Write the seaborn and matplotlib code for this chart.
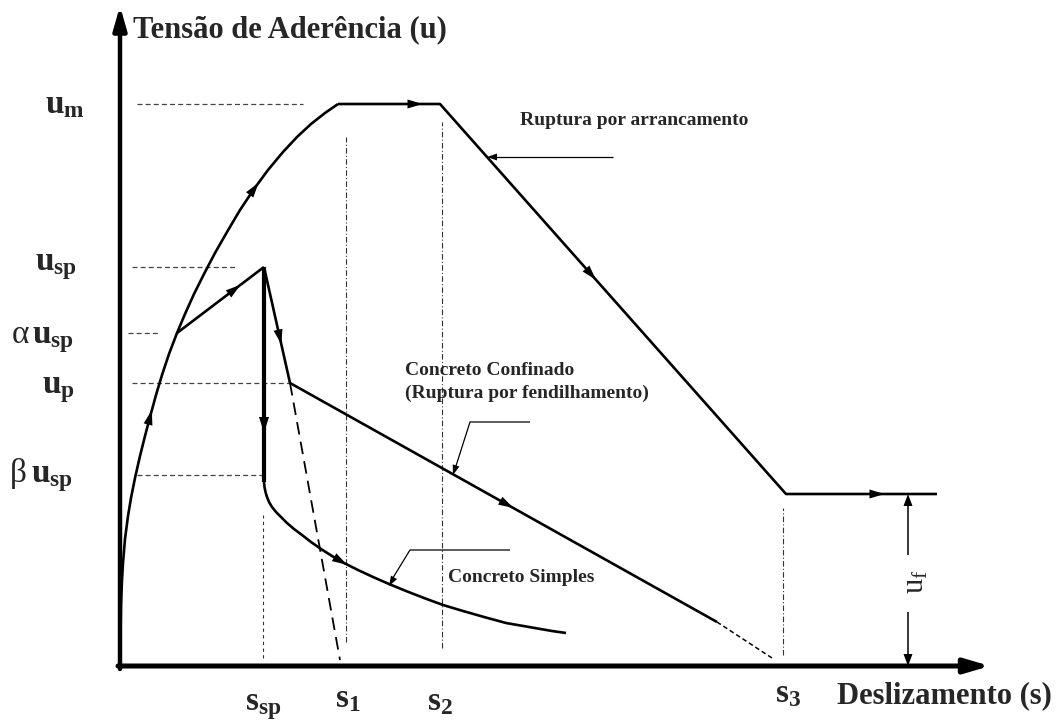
import numpy as np
import matplotlib
matplotlib.use("Agg")
import matplotlib.pyplot as plt
import seaborn as sns

# ---- characteristic values of the bond-slip model (schematic units) ----
s_sp, s_1, s_2, s_3 = 143, 226, 322, 663
u_m, u_sp, alpha_u_sp, u_p, beta_u_sp, u_f = 562, 399, 333, 283, 191, 172

# ascending branch up to the peak bond stress u_m
asc_s = [0, 1, 2, 3, 5, 8, 11, 15, 20, 25, 30, 36, 42, 49, 57, 65, 74, 84, 95,
         107, 120, 134, 148, 163, 177, 191, 205, 218]
asc_u = [0, 62, 86, 103, 127, 150, 168, 188, 210, 230, 249, 271, 291, 312, 333,
         352, 372, 392, 413, 434, 456, 477, 496, 514, 529, 542, 553, 562]

# pull-out failure: plateau, softening and residual friction u_f
pull_s = [218, 320, 666, 817]
pull_u = [u_m, u_m, u_f, u_f]

# splitting branch from alpha*u_sp to u_sp
split_s = [57, 144]
split_u = [alpha_u_sp, u_sp]

# plain concrete: sudden drop to beta*u_sp and decay
drop_s = [144, 144]
drop_u = [u_sp, 184]
plain_s = [144, 144.5, 145.5, 147, 149, 152, 156, 161, 167, 174, 182, 191, 201,
           212, 224, 238, 253, 269, 286, 304, 323, 343, 364, 386, 409, 432, 446]
plain_u = [184, 179, 174, 169, 164, 159, 154, 149, 143, 137, 131, 124, 117,
           110, 103, 96, 89, 82, 75, 68, 61, 55, 49, 43, 39, 35, 33]

# confined concrete (splitting failure)
conf_s = [144, 170, 597]
conf_u = [u_sp, u_p, 44]
conf_ext_s = [597, 652]
conf_ext_u = [44, 8]

# unloading line from u_p
unload_s = [170, 220]
unload_u = [u_p, 6]

# horizontal reference lines: (level, s_start, s_end)
h_guides = [(u_m, 17, 183), (u_sp, 12, 115), (alpha_u_sp, 8, 38),
            (u_p, 12, 170), (beta_u_sp, 17, 147)]
# vertical reference lines: (slip, u_start, u_end, style)
v_guides = [(s_sp, 8, 151, (0, (3, 3))), (s_1, 24, 529, (0, (5, 2, 1, 2))),
            (s_2, 18, 544, (0, (5, 2, 1, 2))), (s_3, 11, 158, (0, (5, 2, 1, 2)))]

# stress labels: (prefix, label, prefix position, label position)
y_labels = [("", r"$\mathdefault{u_{m}}$", None, (-75, 553)),
            ("", r"$\mathdefault{u_{sp}}$", None, (-85, 396)),
            ("α", r"$\mathdefault{u_{sp}}$", (-108, 323), (-88, 323)),
            ("", r"$\mathdefault{u_{p}}$", None, (-78, 273)),
            ("β", r"$\mathdefault{u_{sp}}$", (-110, 184), (-89, 184))]
x_labels = [r"$\mathdefault{s_{sp}}$", r"$\mathdefault{s_{1}}$", r"$\mathdefault{s_{2}}$",
            r"$\mathdefault{s_{3}}$"]
x_label_pos = [(125, -44), (215, -41), (307, -44), (655, -36)]

sns.set_theme(style="white")
plt.rcParams["font.family"] = ["Liberation Serif", "DejaVu Serif"]
plt.rcParams["font.weight"] = "bold"

fig = plt.figure(figsize=(10.56, 7.21), dpi=100)
ax = fig.add_axes([0, 0, 1, 1])
ax.set_xlim(-120, 936)
ax.set_ylim(-55, 666)
ax.axis("off")

K = "black"


def draw(xs, ys, lw=1.9, ls="-", color=K, z=3):
    sns.lineplot(x=xs, y=ys, ax=ax, sort=False, estimator=None, color=color,
                 lw=lw, linestyle=ls, zorder=z, solid_capstyle="butt",
                 dash_capstyle="butt", solid_joinstyle="round")


def head(tip, direction, length=15, width=9):
    d = np.asarray(direction, float)
    d = d / np.hypot(*d)
    tip = np.asarray(tip, float)
    tail = tip - d * length
    ax.annotate("", xy=tip, xytext=tail,
                arrowprops=dict(arrowstyle=f"-|>,head_length={length * 0.72 / 10:.3f},"
                                           f"head_width={width * 0.36 / 10:.3f}",
                                lw=0, color=K, shrinkA=0, shrinkB=0,
                                mutation_scale=10), zorder=5)


def arrow_on(xs, ys, near, length=15, width=9):
    pts = np.column_stack([xs, ys]).astype(float)
    p = np.asarray(near, float)
    best = None
    for a, b in zip(pts[:-1], pts[1:]):
        ab = b - a
        t = np.clip(np.dot(p - a, ab) / np.dot(ab, ab), 0, 1)
        q = a + t * ab
        dist = np.hypot(*(p - q))
        if best is None or dist < best[0]:
            best = (dist, q, ab)
    _, q, ab = best
    d = ab / np.hypot(*ab)
    head(q + d * length / 2, d, length, width)


# guide lines
for lvl, a, b in h_guides:
    draw([a, b], [lvl, lvl], lw=0.9, ls=(0, (4, 2.5)), color="#444444", z=2)
for s, a, b, st in v_guides:
    draw([s, s], [a, b], lw=0.8, ls=st, color="#333333", z=2)

# curves
draw(asc_s, asc_u)
draw(pull_s, pull_u)
draw(split_s, split_u)
draw(drop_s, drop_u, lw=3.0)
draw(plain_s, plain_u)
draw(conf_s, conf_u)
draw(conf_ext_s, conf_ext_u, lw=1.1, ls=(0, (3, 2)))
draw(unload_s, unload_u, lw=1.3, ls=(0, (7, 4)))

# direction arrows on the curves
arrow_on(asc_s, asc_u, (29, 249))
arrow_on(asc_s, asc_u, (133, 478))
arrow_on(split_s, split_u, (115, 376))
arrow_on(pull_s, pull_u, (295, 562))
arrow_on(pull_s, pull_u, (470, 391))
arrow_on(pull_s, pull_u, (757, 172))
arrow_on(drop_s, drop_u, (144, 241), 16, 10)
arrow_on(conf_s, conf_u, (160, 329))
arrow_on(conf_s, conf_u, (387, 162))
arrow_on(plain_s, plain_u, (220, 104))

# coordinate axes
ax.annotate("", xy=(0, 660), xytext=(0, -3),
            arrowprops=dict(arrowstyle="-|>,head_length=0.7,head_width=0.2",
                            lw=3.2, color=K, shrinkA=0, shrinkB=0, mutation_scale=20),
            zorder=6)
ax.annotate("", xy=(870, 0), xytext=(-2, 0),
            arrowprops=dict(arrowstyle="-|>,head_length=0.75,head_width=0.22",
                            lw=3.6, color=K, shrinkA=0, shrinkB=0, mutation_scale=20),
            zorder=6)

# axis titles
ax.text(13, 629, "Tensão de Aderência (u)", fontsize=22, fontweight="bold",
        ha="left", va="baseline")
ax.text(717, -37, "Deslizamento (s)", fontsize=22, fontweight="bold",
        ha="left", va="baseline")

for pre, lab, ppos, lpos in y_labels:
    if pre:
        ax.text(*ppos, pre, fontsize=24, fontweight="normal", ha="left", va="baseline")
    ax.text(*lpos, lab, fontsize=24, fontweight="bold", ha="left", va="baseline")
for lab, (x, y) in zip(x_labels, x_label_pos):
    ax.text(x, y, lab, fontsize=24, fontweight="bold", ha="left", va="baseline")

# curve annotations with leader lines
ax.text(400, 541, "Ruptura por arrancamento", fontsize=14, fontweight="bold",
        ha="left", va="baseline")
draw([493, 372], [509, 509], lw=0.9)
head((367, 509), (-1, 0), 10, 7)

ax.text(285, 291, "Concreto Confinado", fontsize=14, fontweight="bold",
        ha="left", va="baseline")
ax.text(285, 268, "(Ruptura por fendilhamento)", fontsize=14, fontweight="bold",
        ha="left", va="baseline")
draw([410, 350, 335], [244, 244, 197], lw=0.9)
head((333, 191), (333 - 350, 191 - 244), 10, 7)

ax.text(328, 84, "Concreto Simples", fontsize=14, fontweight="bold",
        ha="left", va="baseline")
draw([390, 290, 271], [116, 116, 85], lw=0.9)
head((269, 80), (269 - 290, 80 - 116), 10, 7)

# residual stress dimension u_f
draw([788, 788], [111, 162], lw=1.1)
head((788, 172), (0, 1), 12, 9)
draw([788, 788], [54, 10], lw=1.1)
head((788, 0), (0, -1), 12, 9)
ax.text(796, 84, r"$\mathdefault{u_{f}}$", fontsize=22, fontweight="normal",
        rotation=90, ha="center", va="center")

fig.savefig("out.png", dpi=100)
